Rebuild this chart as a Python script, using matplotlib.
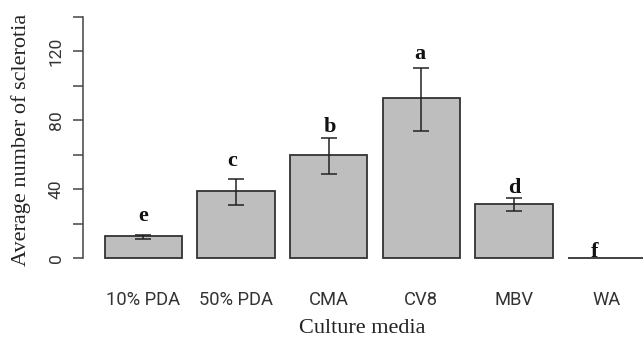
import matplotlib
matplotlib.use("Agg")
import matplotlib.pyplot as plt
import numpy as np

# ---- data ----
categories = ["10% PDA", "50% PDA", "CMA", "CV8", "MBV", "WA"]
means = [13, 39, 59.5, 93, 31.5, 0]
err_low = [10.8, 30.9, 48.7, 73.4, 27.4, 0]
err_high = [13.5, 45.6, 69.8, 110, 34.6, 0]
letters = ["e", "c", "b", "a", "d", "f"]
letter_y = [21.6, 53.3, 73.2, 115.2, 37.9, 0.8]
letter_dx = [0.0, -0.05, 0.02, -0.02, 0.0, -0.16]
yticks = [0, 20, 40, 60, 80, 100, 120, 140]
ytick_labels = ["0", "", "40", "", "80", "", "120", ""]

W, H = 643, 338
fig = plt.figure(figsize=(W / 100, H / 100), dpi=100)
fig.patch.set_facecolor("white")

# axes placement (pixels -> figure fraction)
ax = fig.add_axes([83 / W, 80 / H, 584 / W, 241.5 / H])
ax.set_xlim(-0.08, 7.48)
ax.set_ylim(0, 140)

sans = ["Roboto", "DejaVu Sans"]
serif = ["Liberation Serif", "DejaVu Serif"]

x = 0.7 + 1.2 * np.arange(len(categories))
bars = ax.bar(x, means, width=1.0, color="#bebebe", edgecolor="#333333",
              linewidth=1.3, clip_on=False)

for xi, lo, hi in zip(x, err_low, err_high):
    if hi - lo <= 0:
        continue
    ax.errorbar([xi], [(lo + hi) / 2], yerr=[[(hi - lo) / 2], [(hi - lo) / 2]],
                fmt="none", ecolor="#222222", elinewidth=1.1, capsize=5.5,
                capthick=1.1)

for xi, dx, ly, t in zip(x, letter_dx, letter_y, letters):
    ax.text(xi + dx, ly, t, ha="center", va="baseline", fontsize=16,
            fontweight="bold", family=serif, color="#111111")

for s in ["top", "right", "bottom"]:
    ax.spines[s].set_visible(False)
ax.spines["left"].set_bounds(0, 140)
ax.spines["left"].set_color("#444444")
ax.spines["left"].set_linewidth(1.1)

ax.set_yticks(yticks)
ax.set_yticklabels(ytick_labels, rotation=90, va="center", family=sans,
                   fontsize=12.5, color="#333333")
ax.tick_params(axis="y", length=7, width=1.1, color="#444444", pad=7)

ax.set_xticks(x)
ax.set_xticklabels(categories, family=sans, fontsize=13.2, color="#333333")
ax.tick_params(axis="x", length=0, pad=23.5)

fig.text(362.5 / W, 1 - 333.3 / H, "Culture media", ha="center", va="baseline",
         fontsize=16, family=serif, color="#222222")
fig.text(26 / W, 1 - 140 / H, "Average number of sclerotia", ha="center",
         va="baseline", rotation=90, rotation_mode="anchor", fontsize=16,
         family=serif, color="#222222")

fig.savefig("out.png", dpi=100, facecolor="white")
